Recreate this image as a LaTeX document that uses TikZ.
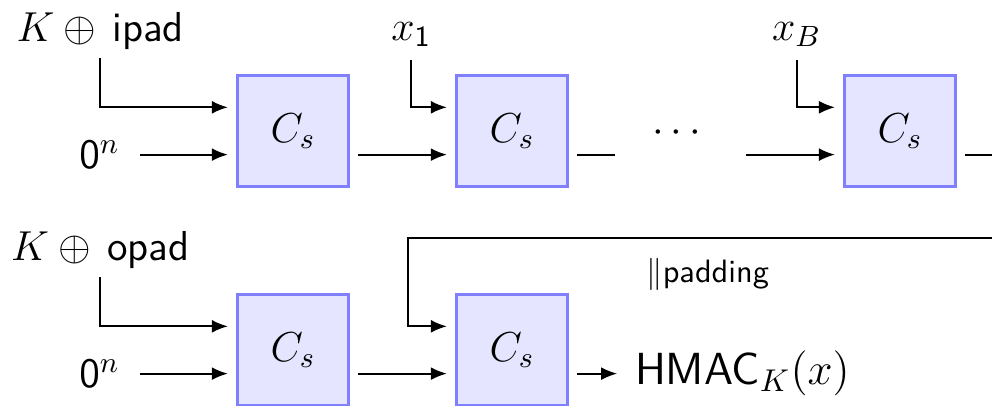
\RequirePackage{fix-cm}
\documentclass[tikz,border=0pt]{standalone}
\usetikzlibrary{arrows.meta}
\begin{document}
\begin{tikzpicture}[>={Latex[length=5.2pt,width=4.2pt]},line width=0.6pt,every node/.style={font=\sffamily\fontsize{13.6}{16}\selectfont},blk/.style={draw=blue!50,fill=blue!10,line width=1pt,minimum size=1.27cm,inner sep=0pt,outer sep=3.1pt},lbl/.style={inner sep=2.5pt}]
\useasboundingbox (-3.345,-3.139) rectangle (7.979,1.495);
\clip (-3.345,-3.139) rectangle (7.979,1.495);
\node[blk] (in1) at (0,0) {$C_s$};
\node[blk] (in2) at (2.5,0) {$C_s$};
\node[blk] (inB) at (6.93,0) {$C_s$};
\node[lbl] (ipad) at (-2.2,1.14) {$K \oplus{}$\,ipad};
\node[lbl,outer sep=4.3pt] (z1) at (-2.21,-0.27) {$\mathsf{0}^n$};
\node[lbl,outer sep=1.7pt] (x1) at (1.35,1.1) {$x_{\mathsf{1}}$};
\node[lbl,outer sep=1.7pt] (xB) at (5.75,1.1) {$x_B$};
\node (dots) at (4.38,-0.03) {$\cdots$};
\coordinate (d1) at (3.68,-0.27);
\coordinate (d2) at (5.17,-0.27);
\node[blk] (out1) at (0,-2.5) {$C_s$};
\node[blk] (out2) at (2.5,-2.5) {$C_s$};
\node[lbl] (opad) at (-2.2,-1.36) {$K \oplus{}$\,opad};
\node[lbl,outer sep=4.3pt] (z2) at (-2.21,-2.77) {$\mathsf{0}^n$};
\node[lbl,anchor=west,outer sep=3.3pt,font=\sffamily\fontsize{14.6}{17}\selectfont] (hmac) at (3.70,-2.77) {HMAC$_K(x)$};
\coordinate (fb) at (8.3,-1.22);
\coordinate (fc) at (1.31,-1.22);
\draw[->] (ipad.south) |- ([yshift=.27cm]in1.west);
\draw[->] (z1.east) -- ([yshift=-.27cm]in1.west);
\draw[->] ([yshift=-.27cm]in1.east) -- ([yshift=-.27cm]in2.west);
\draw[->] (x1.south) |- ([yshift=.27cm]in2.west);
\draw ([yshift=-.27cm]in2.east) -- (d1);
\draw[->] (d2) -- ([yshift=-.27cm]inB.west);
\draw[->] (xB.south) |- ([yshift=.27cm]inB.west);
\draw[->] (opad.south) |- ([yshift=.27cm]out1.west);
\draw[->] (z2.east) -- ([yshift=-.27cm]out1.west);
\draw[->] ([yshift=-.27cm]out1.east) -- ([yshift=-.27cm]out2.west);
\draw[->] ([yshift=-.27cm]inB.east) -| (fb) -- node[pos=.51,below=3pt,font=\sffamily\fontsize{10.5}{12}\selectfont]{$\|$padding} (fc) |- ([yshift=.27cm]out2.west);
\draw[->] ([yshift=-.27cm]out2.east) -- (hmac.west);
\end{tikzpicture}
\end{document}
